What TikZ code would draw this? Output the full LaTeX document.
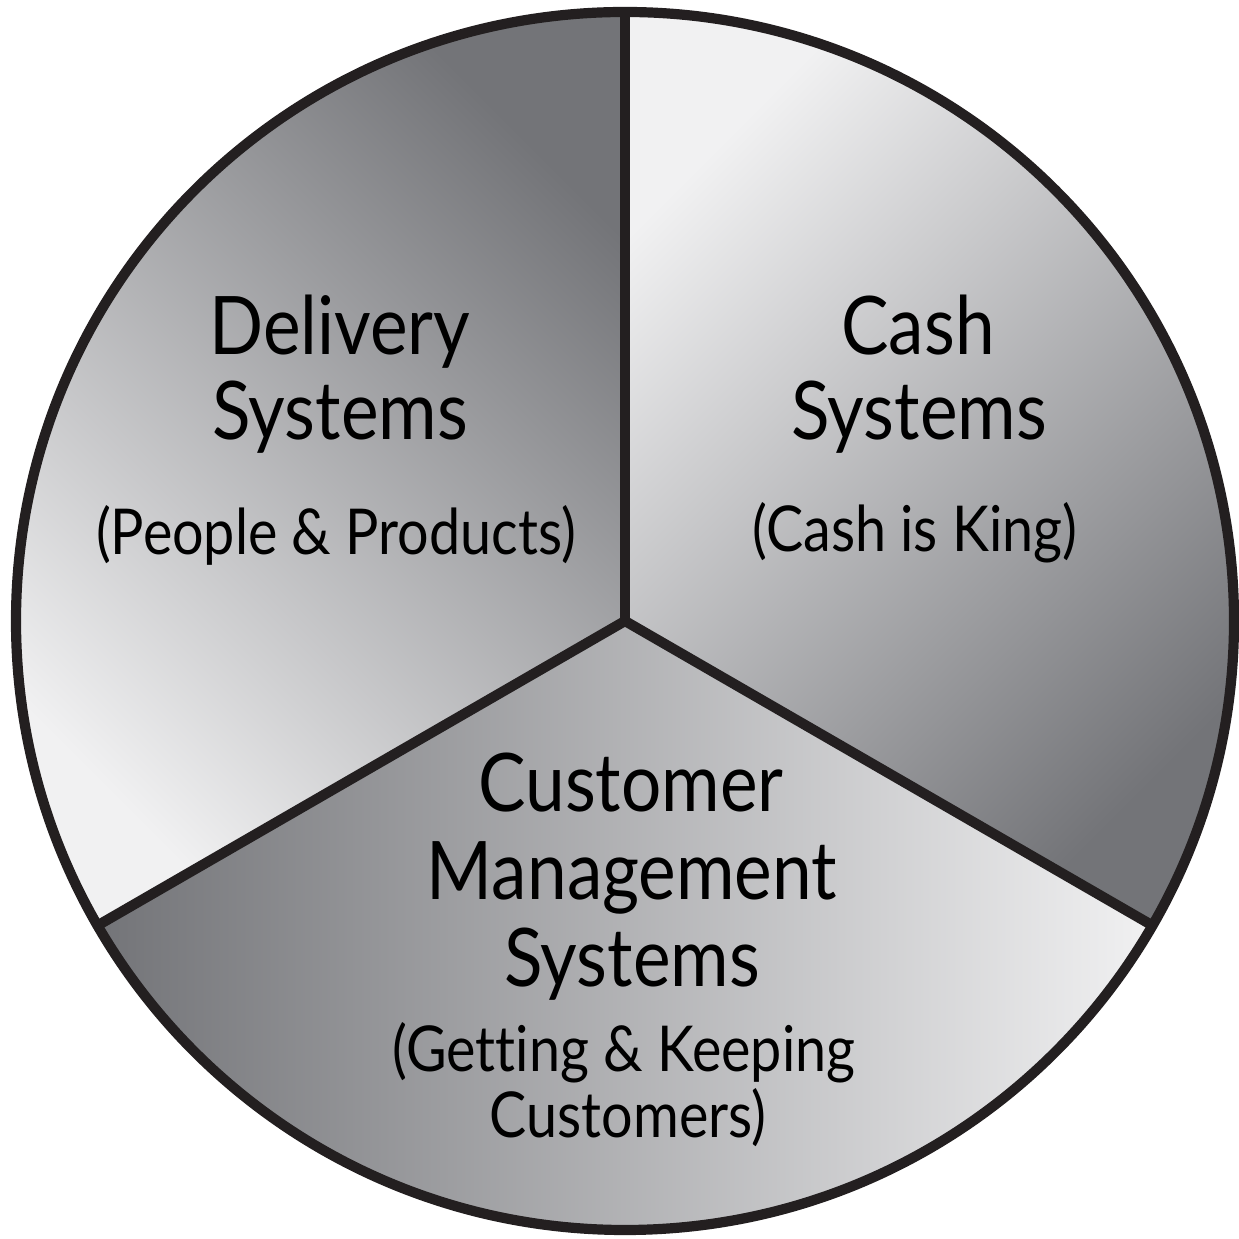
\documentclass[tikz,border=0pt]{standalone}
\usepackage{fontspec}
\setmainfont{Lato}[Ligatures=NoCommon,FakeStretch=0.88]
\usepackage{xcolor}
\usepackage{tikz}
\usetikzlibrary{positioning}

\definecolor{piedark}{HTML}{737478}
\definecolor{pielight}{HTML}{F1F1F2}
\definecolor{rimline}{HTML}{231F20}

\begin{document}
\begin{tikzpicture}[
  rim/.style={draw=rimline,line width=2.9pt},
  title/.style={font=\fontsize{23}{23}\selectfont,anchor=base,inner sep=0pt},
  note/.style={font=\fontsize{18}{18}\selectfont,anchor=base,inner sep=0pt}
]
\useasboundingbox (0,0) rectangle (12.39,12.39);
\coordinate (hub) at (6.25,6.18);
\def\R{6.09}
% three sectors, each with its own shading
\shade[top color=piedark,bottom color=pielight,shading angle=-45]
  (hub) -- ++(90:\R) arc[start angle=90,end angle=210,radius=\R] -- cycle;
\shade[top color=pielight,bottom color=piedark,shading angle=45]
  (hub) -- ++(90:\R) arc[start angle=90,end angle=-30,radius=\R] -- cycle;
\shade[left color=piedark,right color=pielight]
  (hub) -- ++(210:\R) arc[start angle=210,end angle=330,radius=\R] -- cycle;
% spokes and rim
\coordinate (lowl) at ([shift={(210:\R)}]hub);
\coordinate (lowr) at ([shift={(330:\R)}]hub);
\coordinate (up) at ([shift={(90:\R)}]hub);
\draw[rim] (hub) -- (up);
\draw[rim] (hub) -- (lowl);
\draw[rim] (hub) -- (lowr);
\draw[rim] (hub) circle[radius=\R];

% delivery
\node[title] (del1) at (3.40,8.84) {Delivery};
\node[title] (del2) at (3.40,7.99) {Systems};
\node[note] (del3) at (3.36,6.84) {(People \& Products)};
% cash
\node[title] (cash1) at (9.18,8.84) {Cash};
\node[title] (cash2) at (9.19,7.99) {Systems};
\node[note] (cash3) at (9.15,6.87) {(Cash is King)};
% customers
\node[title] (cus1) at (6.31,4.27) {Customer};
\node[title] (cus2) at (6.32,3.39) {Management};
\node[title] (cus3) at (6.32,2.52) {Systems};
\node[note] (cus4) at (6.24,1.67) {(Getting \& Keeping};
\node[note] (cus5) at (6.28,1.01) {Customers)};
\end{tikzpicture}
\end{document}
